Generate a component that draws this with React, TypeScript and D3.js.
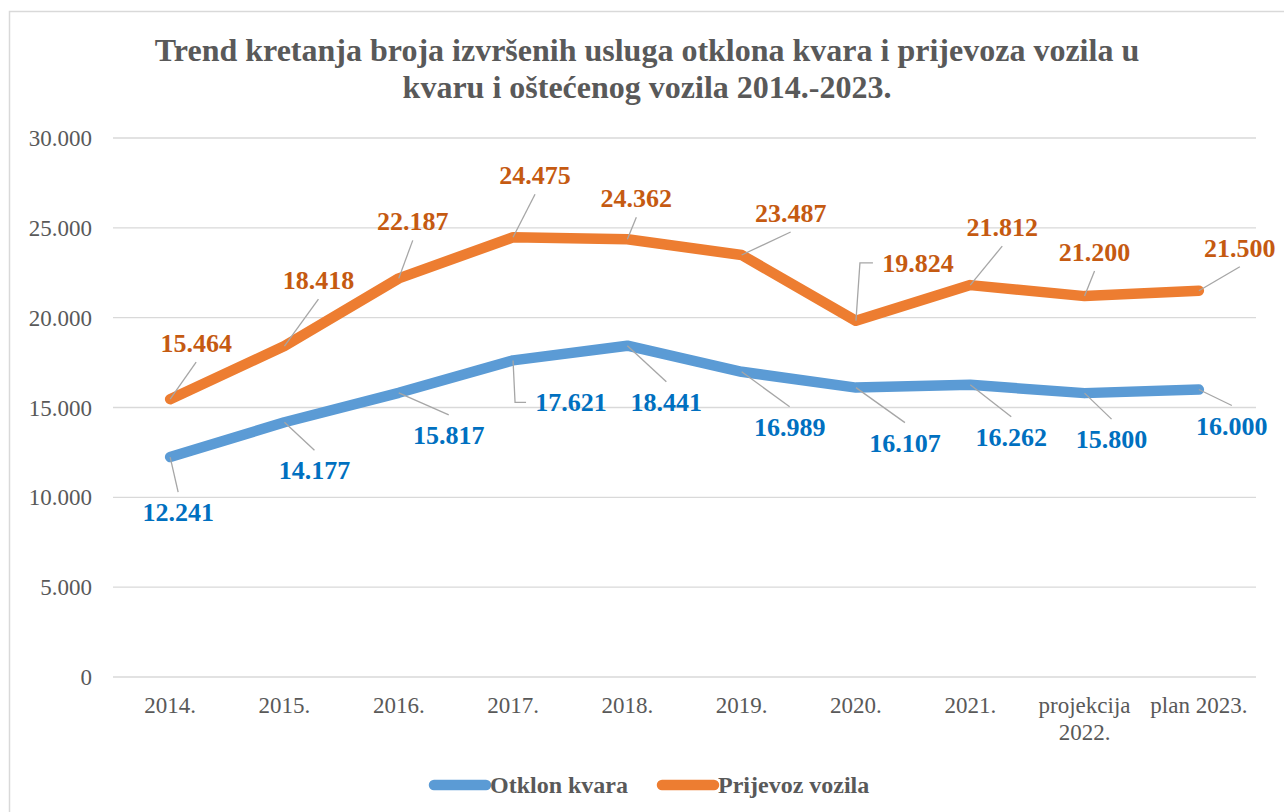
import React from "react";
import * as d3 from "d3";

const categories: string[][] = [
  ["2014."], ["2015."], ["2016."], ["2017."], ["2018."], ["2019."], ["2020."], ["2021."],
  ["projekcija", "2022."], ["plan 2023."],
];
const otklonKvara = [12241, 14177, 15817, 17621, 18441, 16989, 16107, 16262, 15800, 16000];
const prijevozVozila = [15464, 18418, 22187, 24475, 24362, 23487, 19824, 21812, 21200, 21500];
const yTicks = [0, 5000, 10000, 15000, 20000, 25000, 30000];
const titleLines = [
  "Trend kretanja broja izvršenih usluga otklona kvara i prijevoza vozila u",
  "kvaru i oštećenog vozila 2014.-2023.",
];

// label layout offsets (dx, dy from point to label center, elbow leader)
const blueLabelPos: [number, number, boolean][] = [
  [8, 55, false], [30, 48, false], [50, 42, false], [58, 42, true], [39, 56, false],
  [48, 55, false], [49, 55, false], [41, 52, false], [27, 46, false], [33, 36, false],
];
const orangeLabelPos: [number, number, boolean][] = [
  [26, -56, false], [34, -66, false], [14, -57, false], [22, -62, false], [9, -41, false],
  [49, -42, false], [62, -58, true], [32, -58, false], [10, -44, false], [41, -43, false],
];

const W = 1284;
const H = 812;
const FONT = "Liberation Serif, Tinos, Times New Roman, DejaVu Serif, serif";
const GRAY = "#595959";

const fmt = (v: number) => {
  const s = Math.round(v).toString();
  return s.replace(/\B(?=(\d{3})+(?!\d))/g, ".");
};

export default function App() {
  const x = d3.scaleBand<number>().domain(d3.range(categories.length)).range([113, 1256]);
  const cx = (i: number) => (x(i) as number) + x.bandwidth() / 2;
  const y = d3.scaleLinear().domain([0, 30000]).range([677, 138]);
  const line = d3.line<number>().x((_, i) => cx(i)).y((d) => y(d));

  const series = [
    { name: "Otklon kvara", values: otklonKvara, color: "#5B9BD5", text: "#0070C0", pos: blueLabelPos },
    { name: "Prijevoz vozila", values: prijevozVozila, color: "#ED7D31", text: "#C55A11", pos: orangeLabelPos },
  ];

  const labelFont = 26;
  const ts = { fontFamily: FONT };

  return (
    <svg width={W} height={H} style={{ position: "absolute", left: 0, top: 0, background: "#fff", fontFamily: FONT }}>
      <rect x={9.5} y={11.5} width={1300} height={900} fill="#fff" stroke="#D9D9D9" strokeWidth={1.5} />
      {titleLines.map((t, i) => (
        <text key={i} x={647} y={61 + i * 37} textAnchor="middle" fontSize={32} fontWeight="bold" fill={GRAY} style={ts}>
          {t}
        </text>
      ))}
      {yTicks.map((t) => (
        <g key={t}>
          <line x1={113} x2={1256} y1={y(t)} y2={y(t)} stroke="#D9D9D9" strokeWidth={1.3} />
          <text x={92} y={y(t) + 8} textAnchor="end" fontSize={23} fill={GRAY} style={ts}>
            {fmt(t)}
          </text>
        </g>
      ))}
      {categories.map((c, i) => (
        <text key={i} x={cx(i)} y={713} textAnchor="middle" fontSize={23} fill={GRAY} style={ts}>
          {c.map((l, j) => (
            <tspan key={j} x={cx(i)} dy={j === 0 ? 0 : 27}>
              {l}
            </tspan>
          ))}
        </text>
      ))}
      {series.map((s) => (
        <path key={s.name} d={line(s.values) || ""} fill="none" stroke={s.color} strokeWidth={10.5}
          strokeLinecap="round" strokeLinejoin="round" />
      ))}
      {series.map((s) =>
        s.values.map((v, i) => {
          const px = cx(i);
          const py = y(v);
          const [dx, dy, elbow] = s.pos[i];
          const lx = px + dx;
          const ly = py + dy;
          let d: string;
          if (elbow) {
            d = `M${px},${py} L${px + (dy < 0 ? 4 : 2)},${ly} L${lx - 45},${ly}`;
          } else {
            const ey = ly + (dy < 0 ? 19 : -20);
            d = `M${px},${py} L${lx},${ey}`;
          }
          return (
            <g key={s.name + i}>
              <path d={d} fill="none" stroke="#A6A6A6" strokeWidth={1.3} />
              <text x={lx} y={ly + 9} textAnchor="middle" fontSize={labelFont} fontWeight="bold" fill={s.text} style={ts}>
                {fmt(v)}
              </text>
            </g>
          );
        })
      )}
      {/* legend */}
      <g>
        <line x1={434} x2={486} y1={785} y2={785} stroke="#5B9BD5" strokeWidth={10.5} strokeLinecap="round" />
        <text x={490} y={793} fontSize={24} fontWeight="bold" fill={GRAY} style={ts}>Otklon kvara</text>
        <line x1={662} x2={714} y1={785} y2={785} stroke="#ED7D31" strokeWidth={10.5} strokeLinecap="round" />
        <text x={718} y={793} fontSize={24} fontWeight="bold" fill={GRAY} style={ts}>Prijevoz vozila</text>
      </g>
    </svg>
  );
}
